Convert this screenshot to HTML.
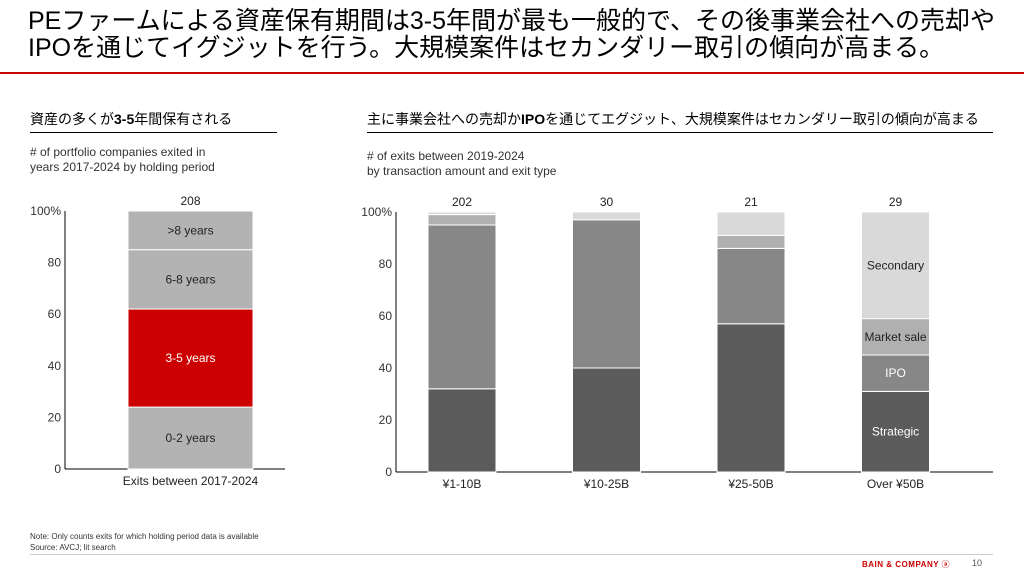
<!DOCTYPE html>
<html><head><meta charset="utf-8">
<style>
body{margin:0;width:1024px;height:576px;background:#fff;font-family:"Liberation Sans","Noto Sans CJK JP",sans-serif;position:relative;overflow:hidden;color:#000}
.abs{position:absolute}
#title{left:28px;top:8px;font-size:25px;line-height:27px;white-space:nowrap}
.hd{font-size:14px;border-bottom:1px solid #000;padding-bottom:3px;white-space:nowrap}
.sub{font-size:12px;color:#333;line-height:15px}
</style></head><body>
<div id="title" class="abs">PEファームによる資産保有期間は3-5年間が最も一般的で、その後事業会社への売却や<br>IPOを通じてイグジットを行う。大規模案件はセカンダリー取引の傾向が高まる。</div>
<div class="abs" style="left:0;top:72px;width:1024px;height:2px;background:#cc0000"></div>

<div class="abs hd" style="left:30px;top:109px;width:247px">資産の多くが<b>3-5</b>年間保有される</div>
<div class="abs sub" style="left:30px;top:145px"># of portfolio companies exited in<br>years 2017-2024 by holding period</div>

<div class="abs hd" style="left:367px;top:109px;width:626px">主に事業会社への売却か<b>IPO</b>を通じてエグジット、大規模案件はセカンダリー取引の傾向が高まる</div>
<div class="abs sub" style="left:367px;top:149px"># of exits between 2019-2024<br>by transaction amount and exit type</div>

<svg class="abs" style="left:0;top:0" width="1024" height="576" id="svg"></svg>

<div class="abs" style="left:30px;top:531px;font-size:8px;line-height:11px;color:#333">Note: Only counts exits for which holding period data is available<br>Source: AVCJ; lit search</div>
<div class="abs" style="left:30px;top:554px;width:963px;height:1px;background:#ccc"></div>
<div class="abs" style="left:862px;top:559px;font-size:8px;font-weight:bold;color:#cc0000;letter-spacing:0.5px">BAIN &amp; COMPANY ⓐ</div>
<div class="abs" style="left:972px;top:558px;font-size:9px;color:#555">10</div>

<script>
const leftCats=["Exits between 2017-2024"];
const leftTotals=[208];
const leftSegs=["0-2 years","3-5 years","6-8 years",">8 years"];
const leftVals=[[24],[38],[23],[15]];
const leftColors=["#b3b3b3","#cc0000","#b3b3b3","#b3b3b3"];

const rightCats=["¥1-10B","¥10-25B","¥25-50B","Over ¥50B"];
const rightTotals=[202,30,21,29];
const rightSegs=["Strategic","IPO","Market sale","Secondary"];
const strategic=[32,40,57,31];
const ipo=[63,57,29,14];
const marketSale=[4,0,5,14];
const secondary=[1,3,9,41];
const rightColors=["#5b5b5b","#878787","#b0b0b0","#d9d9d9"];
const yTicks=[0,20,40,60,80,100];

const svg=document.getElementById('svg');
const NS="http://www.w3.org/2000/svg";
function mk(t,a,txt){const e=document.createElementNS(NS,t);for(const k in a)e.setAttribute(k,a[k]);if(txt!==undefined)e.textContent=txt;svg.appendChild(e);return e;}

function chart(cfg){
  const y=v=>cfg.y0-(v/100)*(cfg.y0-cfg.y1);
  let l=mk('line',{x1:cfg.ax,y1:cfg.y1,x2:cfg.ax,y2:cfg.y0,stroke:'#000','stroke-width':1});
  
  l=mk('line',{x1:cfg.ax,y1:cfg.y0,x2:cfg.ax2,y2:cfg.y0,stroke:'#000','stroke-width':1});
  
  yTicks.forEach(t=>{
    const e=mk('text',{x:cfg.ax-4,y:y(t)+4,'text-anchor':'end','font-size':12,fill:'#333'},t===100?'100%':t);
    
  });
  cfg.cats.forEach((c,i)=>{
    const cx=cfg.cx(i),x=cx-cfg.bw/2;let acc=0;
    cfg.vals.forEach((arr,s)=>{
      const v=arr[i];if(v<=0)return;
      const r=mk('rect',{x:x,y:y(acc+v),width:cfg.bw,height:y(acc)-y(acc+v),fill:cfg.colors[s],stroke:'#fff','stroke-width':1});
      
      
      if(cfg.labelBar===i){
        const t=mk('text',{x:cx,y:(y(acc)+y(acc+v))/2+4,'text-anchor':'middle','font-size':12,fill:s<2?'#fff':'#222'},cfg.segs[s]);
        if(cfg.p==='left')t.setAttribute('fill',s===1?'#fff':'#222');
        
      }
      acc+=v;
    });
    let t=mk('text',{x:cx,y:cfg.y1-6,'text-anchor':'middle','font-size':12,fill:'#222'},cfg.totals[i]);
    
    t=mk('text',{x:cx,y:cfg.y0+16,'text-anchor':'middle','font-size':12,fill:'#222'},c);
    
  });
}
chart({p:'left',y0:469,y1:211,ax:65,ax2:285,cats:leftCats,totals:leftTotals,segs:leftSegs,vals:leftVals,colors:leftColors,bw:125,cx:i=>190.5,labelBar:0});
chart({p:'right',y0:472,y1:212,ax:396,ax2:993,cats:rightCats,totals:rightTotals,segs:rightSegs,vals:[strategic,ipo,marketSale,secondary],colors:rightColors,bw:68,cx:i=>462+i*144.5,labelBar:3});
</script>
</body></html>
